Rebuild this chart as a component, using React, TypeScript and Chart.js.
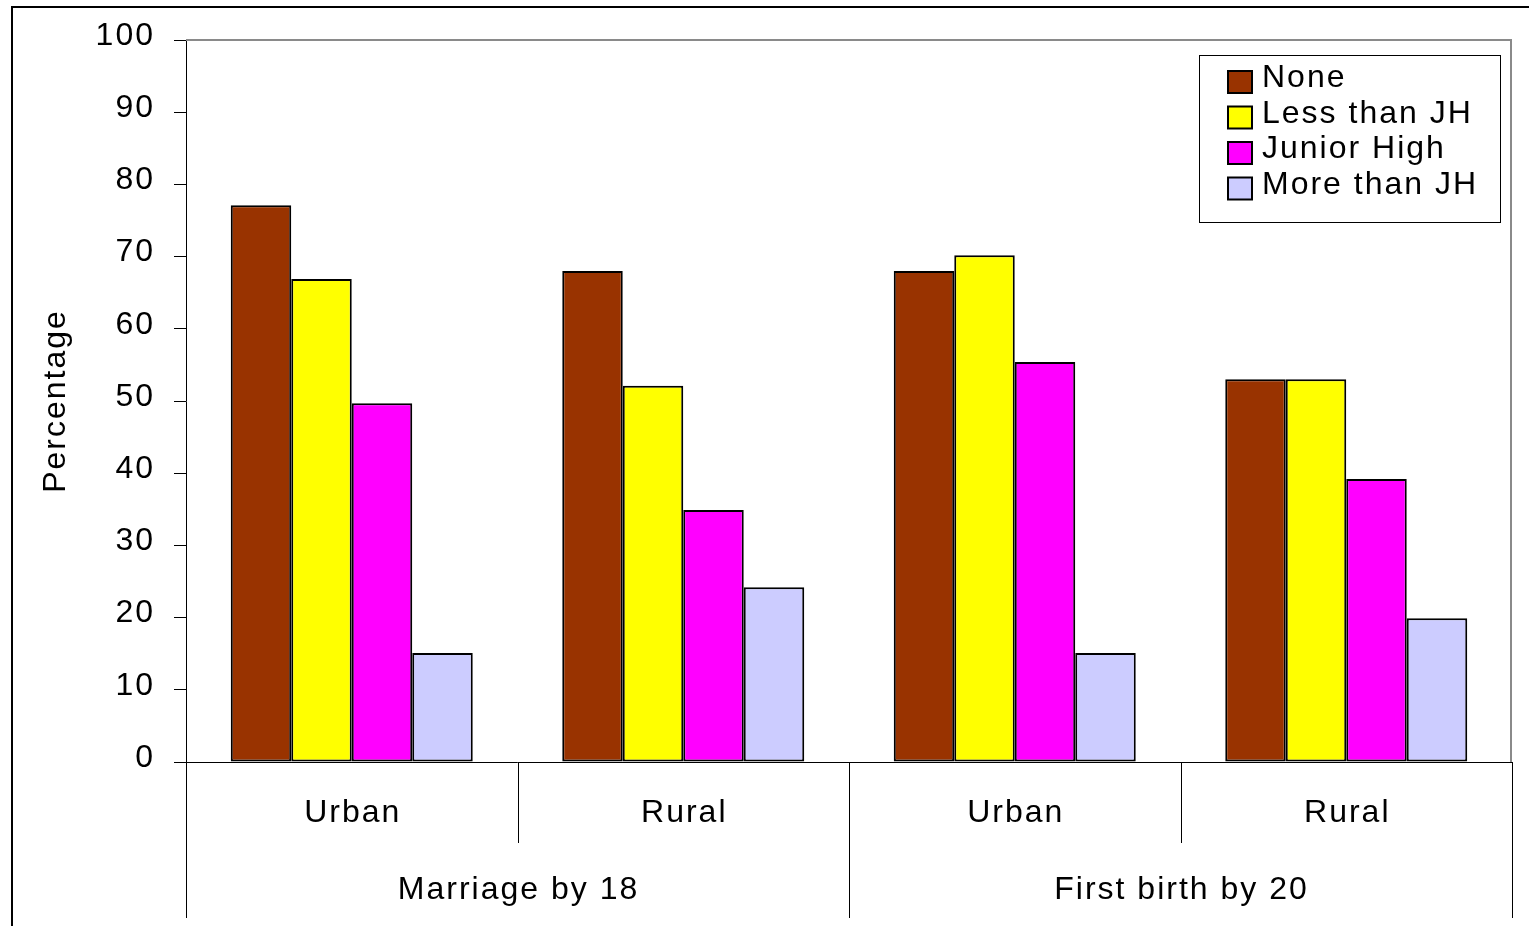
import React, { useEffect, useRef } from "react";
import { Chart, registerables } from "chart.js";

Chart.register(...registerables);

// Outer groups and the residence categories under them
const groups = ["Marriage by 18", "First birth by 20"];
const categoryGroup = [0, 0, 1, 1];
const residence = ["Urban", "Rural", "Urban", "Rural"];

// Education level series (percent)
const seriesNames = ["None", "Less than JH", "Junior High", "More than JH"];
const seriesColors = ["#993300", "#FFFF00", "#FF00FF", "#CCCCFF"];
const noneValues = [77.1, 68, 68, 53];
const lessThanJHValues = [66.9, 52.1, 70.2, 53];
const juniorHighValues = [49.7, 34.9, 55.4, 39.2];
const moreThanJHValues = [15.1, 24.2, 15.1, 19.9];

const yMin = 0;
const yMax = 100;
const yStep = 10;

const FONT = "'Liberation Sans', Arial, sans-serif";
const SIZE = 32;
const SPACING = "2px";

const frameAndAxisPlugin = {
  id: "frameAndAxis",
  beforeDraw(chart: any) {
    (chart.ctx as any).letterSpacing = SPACING;
  },
  afterDraw(chart: any) {
    const { ctx, chartArea } = chart;
    const x = chart.scales.x;
    const { left, right, top, bottom } = chartArea;
    ctx.save();
    (ctx as any).letterSpacing = SPACING;

    // outer frame (top and left edges)
    ctx.strokeStyle = "#000";
    ctx.lineWidth = 2;
    ctx.beginPath();
    ctx.moveTo(12, chart.height);
    ctx.lineTo(12, 7);
    ctx.lineTo(chart.width, 7);
    ctx.stroke();

    // plot area border on top and right
    ctx.strokeStyle = "#8a8a8a";
    ctx.lineWidth = 2;
    ctx.beginPath();
    ctx.moveTo(left, top);
    ctx.lineTo(right - 1, top);
    ctx.lineTo(right - 1, bottom);
    ctx.stroke();

    // two-level category axis
    const n = residence.length;
    const half = (x.getPixelForValue(1) - x.getPixelForValue(0)) / 2;
    const edge = (i: number) =>
      i === n ? x.getPixelForValue(n - 1) + half : x.getPixelForValue(i) - half;

    ctx.strokeStyle = "#000";
    ctx.lineWidth = 1;
    for (let i = 0; i <= n; i++) {
      const isGroupEdge = i === 0 || i === n || categoryGroup[i] !== categoryGroup[i - 1];
      const px = Math.round(edge(i)) + 0.5;
      ctx.beginPath();
      ctx.moveTo(px, bottom);
      ctx.lineTo(px, bottom + (isGroupEdge ? 156 : 81));
      ctx.stroke();
    }

    ctx.fillStyle = "#000";
    ctx.font = `${SIZE}px ${FONT}`;
    ctx.textAlign = "center";
    ctx.textBaseline = "middle";
    for (let i = 0; i < n; i++) {
      ctx.fillText(residence[i], x.getPixelForValue(i) + 1, bottom + 51);
    }
    groups.forEach((g, gi) => {
      const idx = categoryGroup
        .map((c, i) => (c === gi ? i : -1))
        .filter((i) => i >= 0);
      const x0 = edge(idx[0]);
      const x1 = edge(idx[idx.length - 1] + 1);
      ctx.fillText(g, (x0 + x1) / 2 + 1, bottom + 128);
    });

    // legend box
    const bx = 1199.5;
    const by = 55.5;
    ctx.fillStyle = "#fff";
    ctx.fillRect(bx, by, 301, 167);
    ctx.strokeStyle = "#000";
    ctx.lineWidth = 1;
    ctx.strokeRect(bx, by, 301, 167);
    ctx.textAlign = "left";
    chart.data.datasets.forEach((ds: any, i: number) => {
      const cy = 82 + i * 35.5;
      ctx.fillStyle = ds.backgroundColor;
      ctx.fillRect(1228, cy - 11, 24, 22);
      ctx.lineWidth = 2;
      ctx.strokeStyle = "#000";
      ctx.strokeRect(1228, cy - 11, 24, 22);
      ctx.fillStyle = "#000";
      ctx.fillText(ds.label, 1262, cy - 3.5);
    });

    ctx.restore();
  },
};

export default function App() {
  const canvasRef = useRef<HTMLCanvasElement | null>(null);

  useEffect(() => {
    const canvas = canvasRef.current;
    if (!canvas) return;
    Chart.defaults.font.family = FONT;
    Chart.defaults.color = "#000";

    const values = [noneValues, lessThanJHValues, juniorHighValues, moreThanJHValues];
    const chart = new Chart(canvas, {
      type: "bar",
      data: {
        labels: residence,
        datasets: seriesNames.map((name, i) => ({
          label: name,
          data: values[i],
          backgroundColor: seriesColors[i],
          borderColor: "#000",
          borderWidth: 2,
          borderSkipped: false,
          barPercentage: 1,
          categoryPercentage: 0.73,
        })),
      },
      options: {
        responsive: false,
        animation: false,
        layout: { padding: { top: 40, right: 17, left: 0, bottom: 0 } },
        plugins: {
          legend: { display: false },
          tooltip: { enabled: false },
        },
        scales: {
          x: {
            ticks: { display: false },
            grid: { display: false },
            border: { display: true, color: "#000", width: 1 },
            afterFit: (s: any) => {
              s.height = 164;
            },
          },
          y: {
            min: yMin,
            max: yMax,
            ticks: {
              stepSize: yStep,
              font: { size: SIZE, family: FONT },
              color: "#000",
              padding: 19,
              labelOffset: -4,
            },
            grid: {
              drawOnChartArea: false,
              drawTicks: true,
              tickLength: 12,
              color: "#000",
            },
            border: { display: true, color: "#000", width: 1 },
            title: {
              display: true,
              text: "Percentage",
              font: { size: SIZE, family: FONT },
              color: "#000",
              padding: { top: 37, bottom: 0 },
            },
            afterFit: (s: any) => {
              s.width = 186;
            },
          },
        },
      },
      plugins: [frameAndAxisPlugin],
    });
    return () => chart.destroy();
  }, []);

  return (
    <div style={{ position: "fixed", left: 0, top: 0, width: 1529, height: 926, background: "#fff" }}>
      <canvas ref={canvasRef} width={1529} height={926} style={{ display: "block" }} />
    </div>
  );
}
